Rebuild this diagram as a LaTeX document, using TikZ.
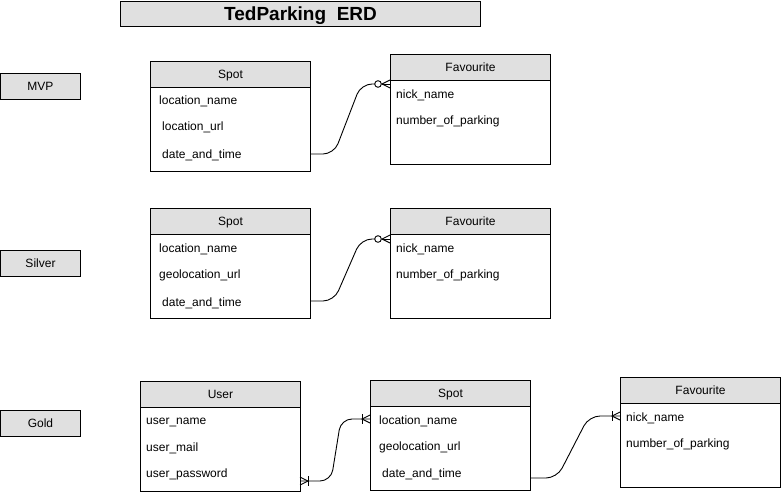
\documentclass[tikz,border=0pt]{standalone}
\usepackage{fontspec}
\setmainfont{Liberation Sans}
\definecolor{hdrgray}{HTML}{E0E0E0}
\begin{document}
\begin{tikzpicture}[x=1pt,y=-1pt,
  box/.style={draw,line width=1pt,inner sep=0pt,anchor=north west},
  hdr/.style={box,fill=hdrgray,minimum width=160pt,minimum height=26pt,font=\fontsize{12}{14}\selectfont,text height=8.6pt,text depth=1pt},
  bodybox/.style={box,fill=white,minimum width=160pt,minimum height=84pt},
  lbl/.style={box,fill=hdrgray,minimum width=80pt,minimum height=26pt,font=\fontsize{12}{14}\selectfont,text height=8.6pt,text depth=1pt},
  attr/.style={anchor=west,inner sep=0pt,yshift=-1pt,font=\fontsize{12}{14}\selectfont},
  conn/.style={line width=0.9pt,rounded corners=11pt},
  deco/.style={line width=0.9pt}
]
\useasboundingbox (0,0) rectangle (781,492);
% title
\node[box,fill=hdrgray,minimum width=360pt,minimum height=25pt,font=\fontsize{19}{22}\selectfont\bfseries,text height=13.5pt,text depth=1pt] (title) at (120,1) {TedParking\ \ ERD};
% tier labels
\node[lbl] (mvp) at (0,73) {MVP};
\node[lbl] (silver) at (0,250) {Silver};
\node[lbl] (gold) at (0,410) {Gold};

% MVP Spot
\node[bodybox] (spot1b) at (150,87) {};
\node[hdr] (spot1h) at (150,61) {Spot};
\node[attr] (s1a) at (159,100) {location\_name};
\node[attr] (s1b) at (162,126) {location\_url};
\node[attr] (s1c) at (162,154) {date\_and\_time};
% MVP Favourite
\node[bodybox] (fav1b) at (390,80) {};
\node[hdr] (fav1h) at (390,54) {Favourite};
\node[attr] (f1a) at (396,94) {nick\_name};
\node[attr] (f1b) at (396,120) {number\_of\_parking};

% Silver Spot
\node[bodybox] (spot2b) at (150,234) {};
\node[hdr] (spot2h) at (150,208) {Spot};
\node[attr] (s2a) at (159,248) {location\_name};
\node[attr] (s2b) at (159,274) {geolocation\_url};
\node[attr] (s2c) at (162,302) {date\_and\_time};
% Silver Favourite
\node[bodybox] (fav2b) at (390,234) {};
\node[hdr] (fav2h) at (390,208) {Favourite};
\node[attr] (f2a) at (396,248) {nick\_name};
\node[attr] (f2b) at (396,274) {number\_of\_parking};

% Gold User
\node[bodybox] (userb) at (140,407) {};
\node[hdr] (userh) at (140,381) {User};
\node[attr] (u1) at (146,421) {user\_name};
\node[attr] (u2) at (146,447) {user\_mail};
\node[attr] (u3) at (146,473) {user\_password};
% Gold Spot
\node[bodybox] (spot3b) at (370,406) {};
\node[hdr] (spot3h) at (370,380) {Spot};
\node[attr] (s3a) at (379,420) {location\_name};
\node[attr] (s3b) at (379,446) {geolocation\_url};
\node[attr] (s3c) at (382,473) {date\_and\_time};
% Gold Favourite
\node[bodybox] (fav3b) at (620,403) {};
\node[hdr] (fav3h) at (620,377) {Favourite};
\node[attr] (f3a) at (626,417) {nick\_name};
\node[attr] (f3b) at (626,443) {number\_of\_parking};

% connector end points
\coordinate (a1) at (310,154); \coordinate (b1) at (390,84);
\coordinate (a2) at (310,301); \coordinate (b2) at (390,239);
\coordinate (a3) at (300,481); \coordinate (b3) at (370,419);
\coordinate (a4) at (530,478); \coordinate (b4) at (620,416);

% MVP connector
\draw[conn] (a1) -- (334,154) -- (361,84) -- (375,84);
\draw[deco] (b1) -- (381.5,84);
\draw[deco,fill=white] (378,84) circle (3.3pt);
\draw[deco] (390,80) -- (382,84) -- (390,88);
% Silver connector
\draw[conn] (a2) -- (334,301) -- (361,239) -- (375,239);
\draw[deco] (b2) -- (381.5,239);
\draw[deco,fill=white] (378,239) circle (3.3pt);
\draw[deco] (390,235) -- (382,239) -- (390,243);
% Gold user - spot
\draw[conn] (a3) -- (331,481) -- (341,419) -- (b3);
\draw[deco] (300,477) -- (308,481) -- (300,485);
\draw[deco] (308,476) -- (308,486);
\draw[deco] (370,415) -- (362,419) -- (370,423);
\draw[deco] (362,414) -- (362,424);
% Gold spot - favourite
\draw[conn] (a4) -- (557,478) -- (589,416) -- (b4);
\draw[deco] (620,412) -- (612,416) -- (620,420);
\draw[deco] (612,411) -- (612,421);
\end{tikzpicture}
\end{document}
